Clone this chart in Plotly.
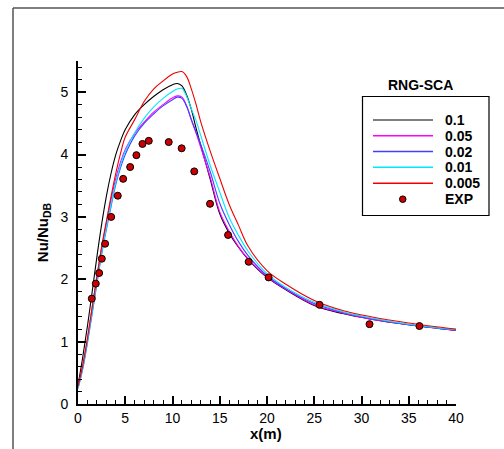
import plotly.graph_objects as go

# ---------------- data ----------------
x_sim = [0, 0.5, 1, 1.5, 2, 2.5, 3, 3.5, 4, 4.5, 5, 6, 7, 8, 9, 10, 10.5, 11, 11.5, 12, 12.5, 13,
         14, 15, 16, 17, 18, 20, 22, 25, 28, 31, 35, 40]

nu_01 = [0.30, 0.75, 1.25, 1.80, 2.36, 2.88, 3.33, 3.70, 4.00, 4.22, 4.40, 4.64, 4.80, 4.93, 5.04, 5.12, 5.14, 5.10, 4.95, 4.72, 4.42, 4.14,
         3.60, 3.05, 2.74, 2.51, 2.32, 2.03, 1.83, 1.58, 1.45, 1.36, 1.27, 1.18]
nu_005 = [0.28, 0.62, 1.05, 1.55, 2.04, 2.50, 2.90, 3.28, 3.62, 3.88, 4.08, 4.34, 4.52, 4.68, 4.80, 4.91, 4.94, 4.92, 4.78, 4.55, 4.34, 4.11,
          3.63, 3.08, 2.77, 2.52, 2.33, 2.04, 1.84, 1.59, 1.46, 1.36, 1.27, 1.18]
nu_002 = [0.25, 0.56, 0.98, 1.45, 1.93, 2.40, 2.80, 3.17, 3.52, 3.79, 4.00, 4.30, 4.50, 4.65, 4.78, 4.88, 4.92, 4.90, 4.77, 4.56, 4.36, 4.16,
          3.72, 3.22, 2.88, 2.60, 2.38, 2.06, 1.85, 1.61, 1.47, 1.37, 1.27, 1.18]
nu_001 = [0.25, 0.58, 1.00, 1.48, 1.95, 2.42, 2.82, 3.20, 3.55, 3.83, 4.05, 4.35, 4.58, 4.76, 4.90, 5.01, 5.05, 5.06, 4.93, 4.73, 4.54, 4.30,
          3.82, 3.40, 2.99, 2.70, 2.45, 2.09, 1.87, 1.63, 1.48, 1.38, 1.28, 1.19]
nu_0005 = [0.28, 0.62, 1.05, 1.55, 2.04, 2.52, 2.93, 3.33, 3.70, 4.02, 4.28, 4.56, 4.85, 5.05, 5.18, 5.29, 5.32, 5.33, 5.25, 5.05, 4.80, 4.52,
           4.05, 3.62, 3.20, 2.86, 2.53, 2.14, 1.92, 1.66, 1.50, 1.40, 1.30, 1.20]

x_exp = [1.46, 1.88, 2.24, 2.52, 2.87, 3.51, 4.21, 4.78, 5.52, 6.18, 6.82, 7.49, 9.6, 10.97, 12.3, 13.97,
         15.88, 18.06, 20.17, 25.56, 30.85, 36.13]
nu_exp = [1.69, 1.93, 2.10, 2.33, 2.57, 3.00, 3.34, 3.61, 3.80, 3.99, 4.17, 4.22, 4.20, 4.10, 3.73, 3.21,
          2.71, 2.28, 2.03, 1.59, 1.28, 1.25]

series_names = ["0.1", "0.05", "0.02", "0.01", "0.005"]
series_values = [nu_01, nu_005, nu_002, nu_001, nu_0005]
series_colors = ["#000000", "#ff00ff", "#4040ff", "#00e8ff", "#ee0000"]

legend_title = "RNG-SCA"
exp_name = "EXP"
x_title = "x(m)"
x_ticks = [0, 5, 10, 15, 20, 25, 30, 35, 40]
y_ticks = [0, 1, 2, 3, 4, 5]

# ---------------- figure ----------------
W, H = 504, 449
ML, MR, MT, MB = 78, 48, 61, 45
PW, PH = W - ML - MR, H - MT - MB
FONT = "Arial, Liberation Sans, sans-serif"


def px(xp):
    return (xp - ML) / PW


def py(yp):
    return (H - MB - yp) / PH


fig = go.Figure()
for name, vals, col in zip(series_names, series_values, series_colors):
    fig.add_trace(go.Scatter(x=x_sim, y=vals, mode="lines", name=name,
                             line=dict(color=col, width=1.1, shape="spline", smoothing=1.0),
                             showlegend=False))
fig.add_trace(go.Scatter(x=x_exp, y=nu_exp, mode="markers", name=exp_name,
                         marker=dict(color="#cc0000", size=7, line=dict(color="#000000", width=1)),
                         showlegend=False))

shapes = []
annotations = []
# outer frame (top & left edges visible)
shapes.append(dict(type="line", xref="paper", yref="paper", x0=px(13), x1=px(W + 5), y0=py(8), y1=py(8),
                   line=dict(color="#555555", width=1.5)))
shapes.append(dict(type="line", xref="paper", yref="paper", x0=px(13), x1=px(13), y0=py(8), y1=py(H + 5),
                   line=dict(color="#555555", width=1.5)))

# manual legend
shapes.append(dict(type="rect", xref="paper", yref="paper", x0=px(362.5), x1=px(489), y0=py(96.5), y1=py(215.5),
                   line=dict(color="#000000", width=1.2), fillcolor="white", layer="above"))
annotations.append(dict(text="<b>" + legend_title + "</b>", xref="paper", yref="paper", x=px(420), y=py(85),
                        showarrow=False, font=dict(family=FONT, size=14, color="#000"), xanchor="center", yanchor="middle"))
row_y = [120, 135.8, 151.5, 167.3, 183.2, 199.2]
for i, (name, col) in enumerate(zip(series_names, series_colors)):
    shapes.append(dict(type="line", xref="paper", yref="paper", x0=px(373), x1=px(433), y0=py(row_y[i]), y1=py(row_y[i]),
                       line=dict(color=col if col != "#000000" else "#555555", width=1.5), layer="above"))
    annotations.append(dict(text="<b>" + name + "</b>", xref="paper", yref="paper", x=px(443), y=py(row_y[i]),
                            showarrow=False, font=dict(family=FONT, size=14, color="#000"), xanchor="left", yanchor="middle"))
shapes.append(dict(type="circle", xref="paper", yref="paper", x0=px(399.5), x1=px(406), y0=py(row_y[5] - 3.3), y1=py(row_y[5] + 3.3),
                   fillcolor="#cc0000", line=dict(color="#000000", width=1), layer="above"))
annotations.append(dict(text="<b>" + exp_name + "</b>", xref="paper", yref="paper", x=px(443), y=py(row_y[5]),
                        showarrow=False, font=dict(family=FONT, size=14, color="#000"), xanchor="left", yanchor="middle"))

# x-axis title placed as in the reference
annotations.append(dict(text="<b>" + x_title + "</b>", xref="paper", yref="paper", x=px(266), y=py(433),
                        showarrow=False, font=dict(family=FONT, size=15, color="#000"), xanchor="center", yanchor="middle"))

fig.update_layout(
    width=W, height=H,
    margin=dict(l=ML, r=MR, t=MT, b=MB, pad=0),
    paper_bgcolor="white", plot_bgcolor="white",
    font=dict(family=FONT, size=14, color="#000"),
    shapes=shapes, annotations=annotations,
    showlegend=False,
)
fig.update_xaxes(range=[0, 40], tickvals=x_ticks, ticks="inside", ticklen=8, tickwidth=1.5, tickcolor="#000",
                 showline=True, linecolor="#000", linewidth=2, showgrid=False, zeroline=False,
                 minor=dict(dtick=1, ticks="inside", ticklen=4, tickwidth=1, tickcolor="#000", showgrid=False),
                 tickfont=dict(size=14))
fig.update_yaxes(range=[0, 5.5], tickvals=y_ticks, ticks="inside", ticklen=8, tickwidth=1.5, tickcolor="#000",
                 showline=True, linecolor="#000", linewidth=2, showgrid=False, zeroline=False,
                 minor=dict(dtick=0.2, ticks="inside", ticklen=4, tickwidth=1, tickcolor="#000", showgrid=False),
                 tickfont=dict(size=14), ticklabelstandoff=5,
                 title=dict(text="<b>Nu/Nu<sub>DB</sub></b>", font=dict(size=15), standoff=8))

fig.write_html("out.html")
